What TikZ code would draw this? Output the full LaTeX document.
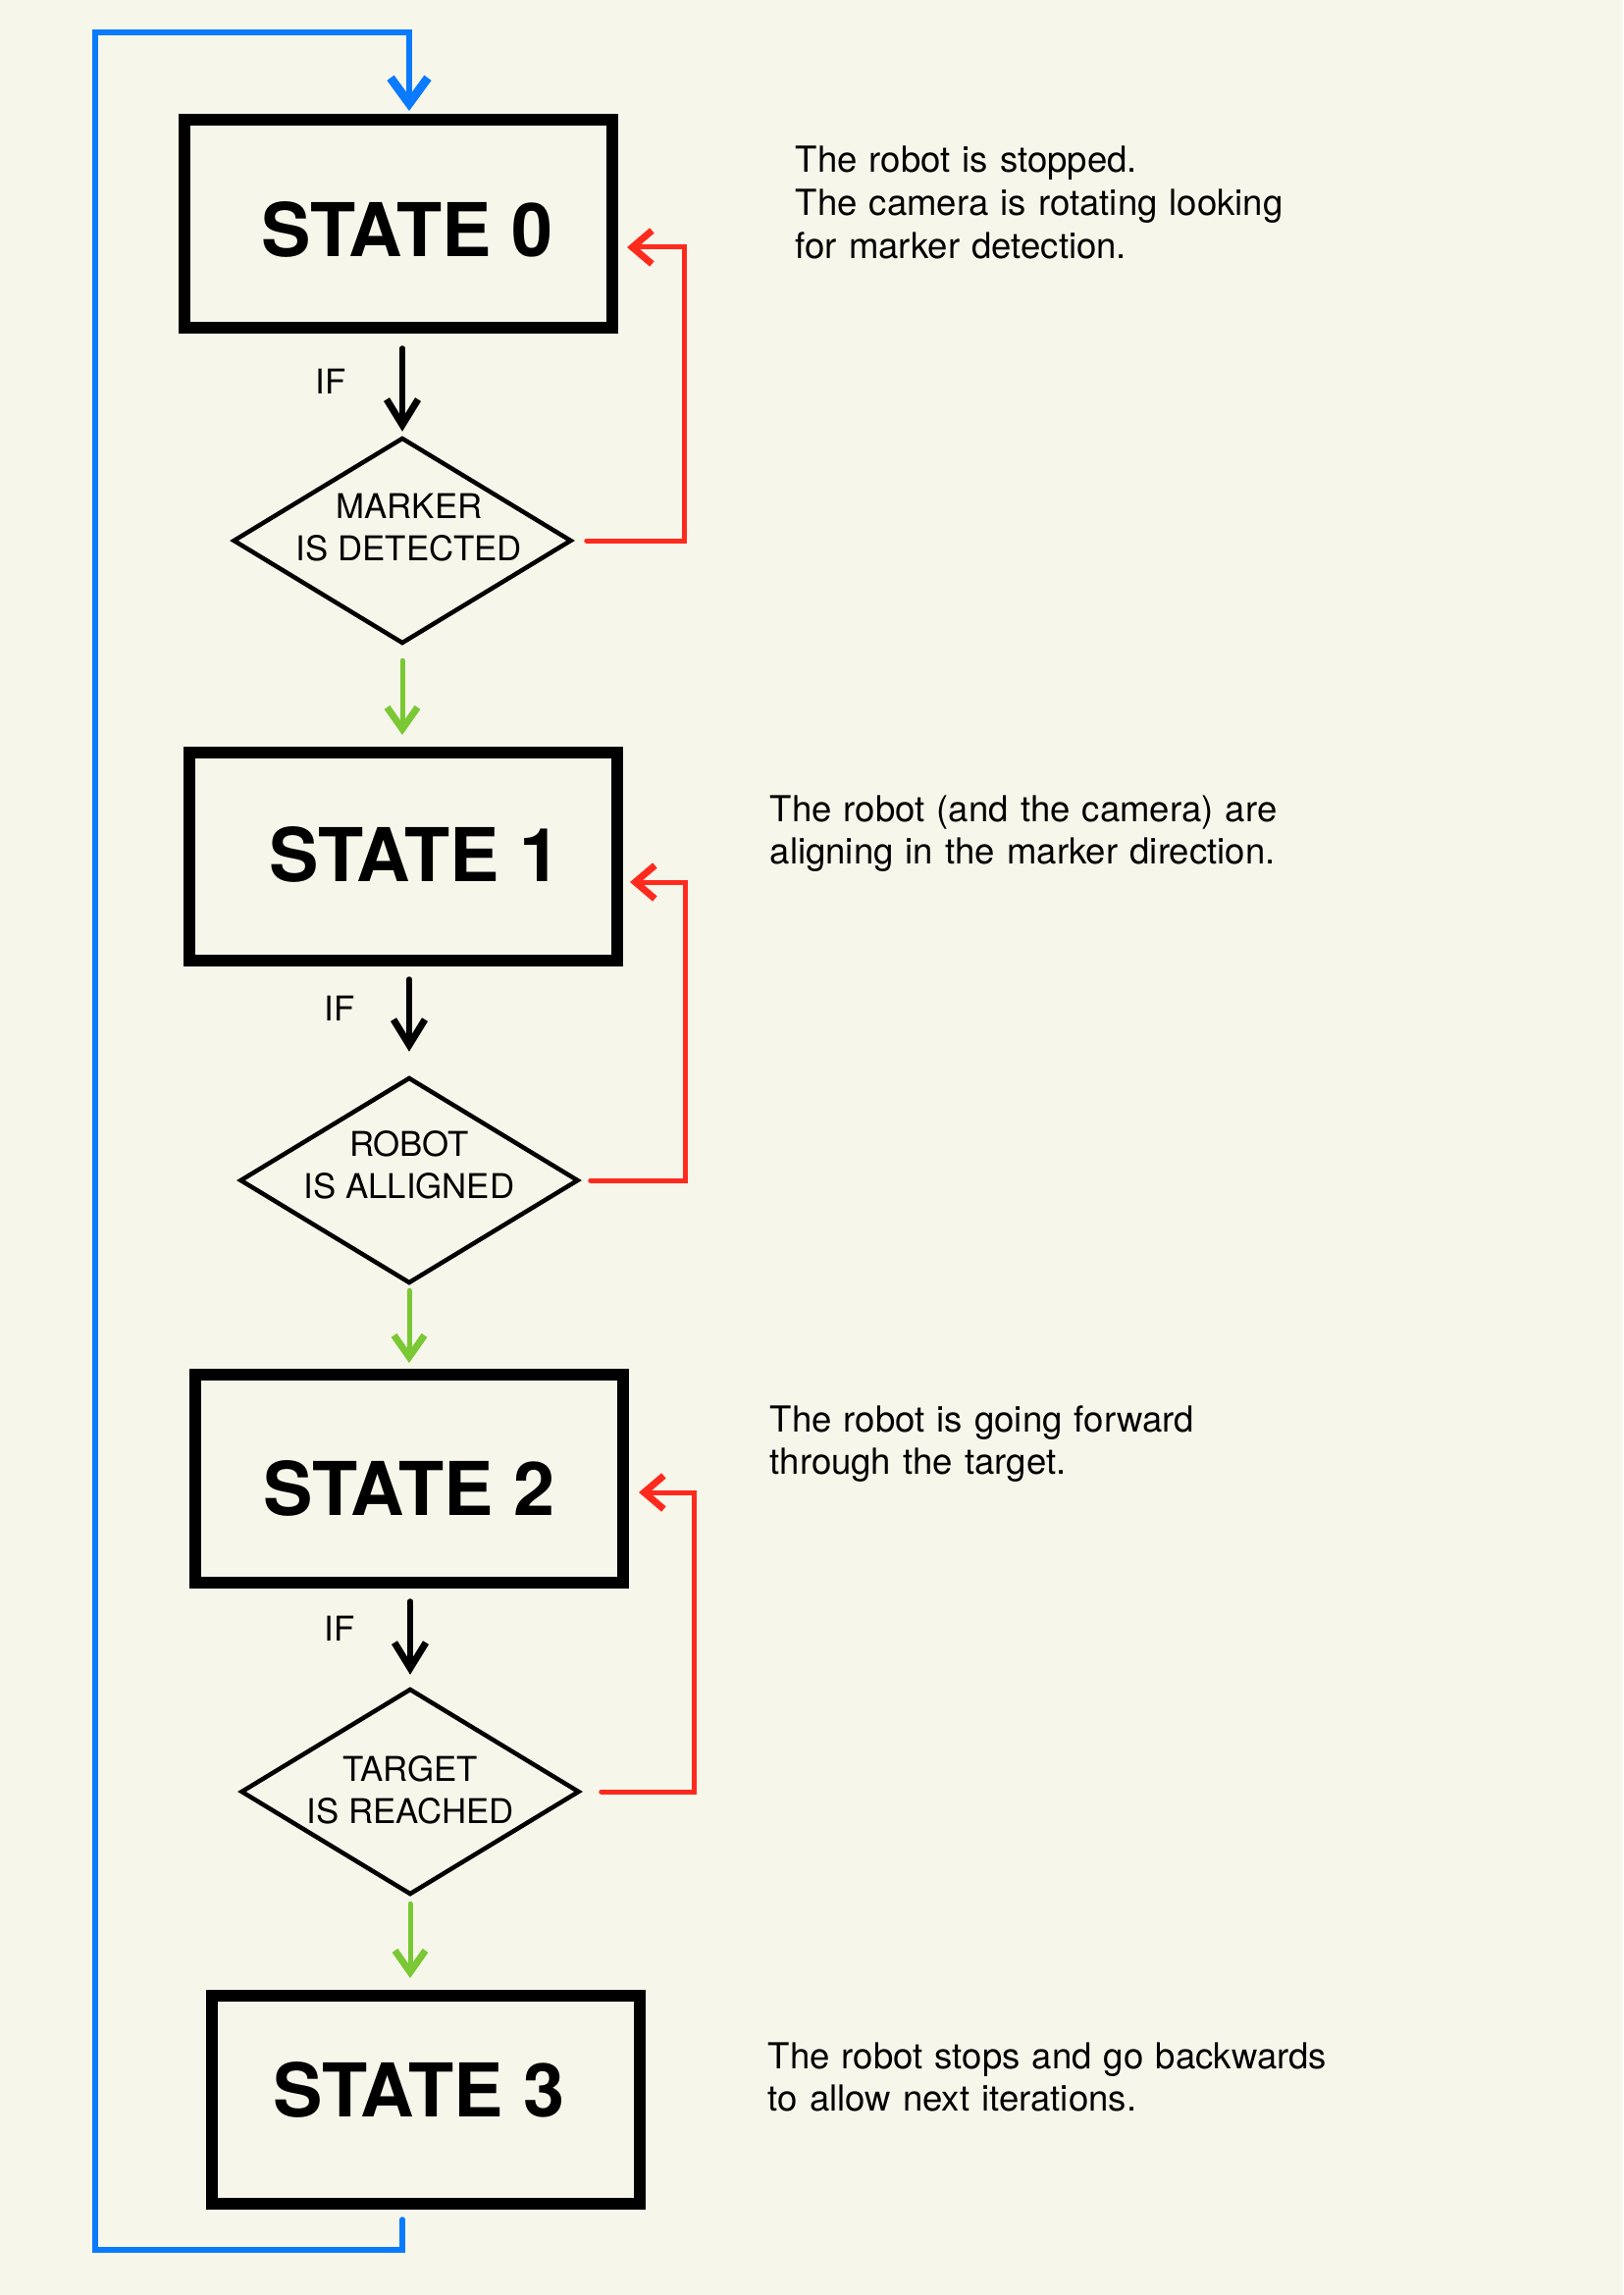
\documentclass[tikz,border=0pt]{standalone}
\usepackage{fontspec}
\setmainfont{TeX Gyre Heros}
\usepackage{tikz}
\usetikzlibrary{shapes.geometric,arrows.meta}
\definecolor{paper}{RGB}{246,246,234}
\definecolor{loopblue}{RGB}{10,122,255}
\definecolor{loopred}{RGB}{255,42,30}
\definecolor{goodgreen}{RGB}{122,200,52}
\tikzstyle{statebox} = [rectangle,draw=black,line width=1.2mm,fill=paper,minimum width=43.6mm,minimum height=21.2mm,inner sep=0pt]
\tikzstyle{statetext} = [font=\fontsize{21.5}{25}\selectfont\bfseries,inner sep=0pt]
\tikzstyle{checkbox} = [diamond,draw=black,line width=0.45mm,minimum width=34.5mm,minimum height=21mm,inner sep=0pt]
\tikzstyle{checktext} = [font=\fontsize{9.9}{12.2}\selectfont,align=center,inner sep=0pt]
\tikzstyle{iflabel} = [font=\fontsize{9.9}{12}\selectfont,inner sep=0pt]
\tikzstyle{note} = [font=\fontsize{10.4}{12.5}\selectfont,align=left,text width=80mm,inner sep=0pt,anchor=base west]
\tikzstyle{arrowblack} = [line width=0.55mm,line cap=round,-{Straight Barb[length=2.6mm,width=3.2mm,line width=0.7mm]}]
\tikzstyle{arrowgreen} = [goodgreen,line width=0.5mm,line cap=round,-{Straight Barb[length=2.2mm,width=3.1mm,line width=0.7mm]}]
\tikzstyle{arrowred} = [loopred,line width=0.5mm,line cap=round,-{Straight Barb[length=2mm,width=3.4mm,line width=0.7mm]}]
\tikzstyle{arrowblue} = [loopblue,line width=0.55mm,line cap=round,-{Straight Barb[length=2.6mm,width=3.8mm,line width=0.9mm]}]
\begin{document}
\begin{tikzpicture}[x=0.1mm,y=-0.1mm]
\fill[paper] (0,0) rectangle (1654,2339);

\node (S0) [statebox,label={[statetext,xshift=0.9mm,yshift=-0.6mm]center:STATE 0}] at (406,228) {};
\node (S1) [statebox,label={[statetext,xshift=1.2mm,yshift=0.2mm]center:STATE 1}] at (411,873) {};
\node (S2) [statebox,label={[statetext,yshift=-1mm]center:STATE 2}] at (417,1507) {};
\node (S3) [statebox,label={[statetext,xshift=-0.7mm,yshift=1mm]center:STATE 3}] at (434,2140) {};

\node (C0) [checkbox,label={[checktext,xshift=0.7mm,yshift=1.3mm]center:MARKER\\IS DETECTED}] at (410,551) {};
\node (C1) [checkbox,label={[checktext,yshift=1.6mm]center:ROBOT\\IS ALLIGNED}] at (417,1203) {};
\node (C2) [checkbox,label={[checktext,yshift=0.2mm]center:TARGET\\IS REACHED}] at (418,1826) {};

\node (IF0) [iflabel] at (337,389) {IF};
\node (IF1) [iflabel] at (346,1028) {IF};
\node (IF2) [iflabel] at (346,1660) {IF};

\node (N0) [note] at (810,176) {The robot is stopped.\\The camera is rotating looking\\for marker detection.};
\node (N1) [note] at (784,837) {The robot (and the camera) are\\aligning in the marker direction.};
\node (N2) [note] at (784,1459) {The robot is going forward\\through the target.};
\node (N3) [note] at (782,2108) {The robot stops and go backwards\\to allow next iterations.};

% state -> check
\draw[arrowblack,shorten <=1.5mm,shorten >=0.4mm] (C0.north |- S0.south) -- (C0.north);
\draw[arrowblack,shorten <=1.3mm,shorten >=2.4mm] (C1.north |- S1.south) -- (C1.north);
\draw[arrowblack,shorten <=1.3mm,shorten >=1.2mm] (C2.north |- S2.south) -- (C2.north);

% check passed
\draw[arrowgreen,shorten <=1.5mm,shorten >=1.2mm] (C0.south) -- (C0.south |- S1.north);
\draw[arrowgreen,shorten <=0.5mm,shorten >=0.6mm] (C1.south) -- (C1.south |- S2.north);
\draw[arrowgreen,shorten <=0.7mm,shorten >=1.2mm] (C2.south) -- (C2.south |- S3.north);

% check failed
\draw[arrowred] ([xshift=1.3mm]C0.east) -| ([xshift=6.7mm,yshift=-2.4mm]S0.east) -- ([xshift=0.9mm,yshift=-2.4mm]S0.east);
\draw[arrowred] ([xshift=1mm]C1.east) -| ([xshift=6.3mm,yshift=-2.6mm]S1.east) -- ([xshift=0.7mm,yshift=-2.6mm]S1.east);
\draw[arrowred] ([xshift=2mm]C2.east) -| ([xshift=6.6mm,yshift=-1.4mm]S2.east) -- ([xshift=1mm,yshift=-1.4mm]S2.east);

% back to the start
\coordinate (LoopCorner) at (97,33);
\draw[arrowblue,shorten <=1mm,shorten >=0.3mm] ([xshift=-2.4mm]S3.south) -- ++(0,-4.1mm) -| (LoopCorner) -| ([xshift=1.1mm]S0.north);
\end{tikzpicture}
\end{document}
